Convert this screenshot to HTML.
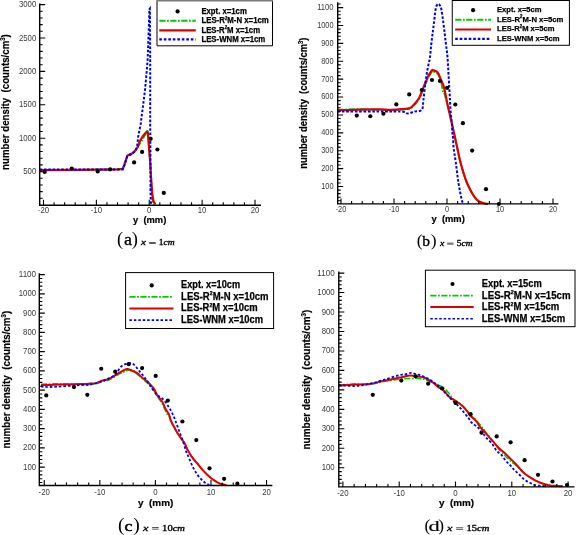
<!DOCTYPE html>
<html><head><meta charset="utf-8"><title>Figure</title>
<style>
html,body{margin:0;padding:0;background:#fff;}
body{width:576px;height:535px;overflow:hidden;}
svg{display:block;font-family:"Liberation Sans", sans-serif;will-change:transform;}
</style></head><body>
<svg width="576" height="535" viewBox="0 0 576 535">
<rect width="576" height="535" fill="#fff"/>
<g>
<path d="M39.7 170 L80 169.8 L118 169.2 L122.7 168.9 L124.5 164.3 L127.3 155.8 L128.3 155.1 L132 153.5 L135.3 150.7 L137.6 147.5 L140 143.5 L142.3 140 L145 135 L147.9 129.7 L148.4 138 L149.3 151.2 L150.2 162.4 L150.7 175 L151.1 181.8 L151.8 193.6 L152.8 201.2 L154.2 204.6" fill="none" stroke="#00cc00" stroke-width="1.8" stroke-dasharray="6.2 1.5 1.8 1.5"/>
<path d="M39.7 170.1 L80 169.9 L118 169.3 L122.7 169 L124.5 164.3 L127.3 155.8 L128.3 155.1 L132 153.5 L135.3 150.7 L137.6 147 L140 140.9 L142.8 136.2 L146 132.5 L147.2 131.7 L147.9 133.5 L148.4 140 L149.3 151.2 L150.2 162.4 L150.9 175 L151.4 181.8 L152.2 193.6 L153.5 201.2 L155.2 204.6" fill="none" stroke="#de0000" stroke-width="2.2" stroke-linejoin="round"/>
<path d="M39.7 169.5 L80 169.5 L118 169.4 L122.7 169.4 L124.5 164.8 L127.3 156.3 L128.3 155.6 L132 154 L135.3 151 L137.2 146.5 L138.1 137.1 L139.5 129.7 L140.6 125 L141.2 119.8 L143.2 104.5 L145 89.9 L146.4 75 L147.6 60 L148.2 45 L148.8 28 L149.4 9.2 L149.8 8.6 L150 20 L150.2 60 L150.2 126 L150.5 160 L150.5 190.3 L150.9 202 L151.2 205" fill="none" stroke="#0000f0" stroke-width="2.0" stroke-dasharray="2.6 1.7"/>
<circle cx="44.7" cy="171.9" r="2.1" fill="#000"/>
<circle cx="71.75" cy="168.5" r="2.1" fill="#000"/>
<circle cx="97.7" cy="171.4" r="2.1" fill="#000"/>
<circle cx="110.2" cy="169.3" r="2.1" fill="#000"/>
<circle cx="134.1" cy="162.4" r="2.1" fill="#000"/>
<circle cx="142.1" cy="151.9" r="2.1" fill="#000"/>
<circle cx="150.7" cy="138.8" r="2.1" fill="#000"/>
<circle cx="157.4" cy="149.5" r="2.1" fill="#000"/>
<circle cx="163.8" cy="192.9" r="2.1" fill="#000"/>
<path d="M39.7 3.4V205.2H261" fill="none" stroke="#000" stroke-width="1.4"/>
<path d="M39.7 198.32h3M39.7 191.64h3M39.7 184.96h3M39.7 178.28h3M39.7 171.6h5.5M39.7 164.92h3M39.7 158.24h3M39.7 151.56h3M39.7 144.88h3M39.7 138.2h5.5M39.7 131.52h3M39.7 124.84h3M39.7 118.16h3M39.7 111.48h3M39.7 104.8h5.5M39.7 98.12h3M39.7 91.44h3M39.7 84.76h3M39.7 78.08h3M39.7 71.4h5.5M39.7 64.72h3M39.7 58.04h3M39.7 51.36h3M39.7 44.68h3M39.7 38h5.5M39.7 31.32h3M39.7 24.64h3M39.7 17.96h3M39.7 11.28h3M39.7 4.6h5.5M43.5 205.2v-5.5M54.08 205.2v-3M64.65 205.2v-3M75.23 205.2v-3M85.8 205.2v-3M96.38 205.2v-5.5M106.95 205.2v-3M117.53 205.2v-3M128.1 205.2v-3M138.68 205.2v-3M149.25 205.2v-5.5M159.82 205.2v-3M170.4 205.2v-3M180.97 205.2v-3M191.55 205.2v-3M202.12 205.2v-5.5M212.7 205.2v-3M223.27 205.2v-3M233.85 205.2v-3M244.43 205.2v-3M255 205.2v-5.5" fill="none" stroke="#000" stroke-width="1.1"/>
<text x="23.29" y="174.11" font-size="8.74" fill="#3a3a3a" textLength="13.01" lengthAdjust="spacingAndGlyphs">500</text>
<text x="18.95" y="140.71" font-size="8.74" fill="#3a3a3a" textLength="17.35" lengthAdjust="spacingAndGlyphs">1000</text>
<text x="18.95" y="107.31" font-size="8.74" fill="#3a3a3a" textLength="17.35" lengthAdjust="spacingAndGlyphs">1500</text>
<text x="18.95" y="73.91" font-size="8.74" fill="#3a3a3a" textLength="17.35" lengthAdjust="spacingAndGlyphs">2000</text>
<text x="18.95" y="40.51" font-size="8.74" fill="#3a3a3a" textLength="17.35" lengthAdjust="spacingAndGlyphs">2500</text>
<text x="18.95" y="7.11" font-size="8.74" fill="#3a3a3a" textLength="17.35" lengthAdjust="spacingAndGlyphs">3000</text>
<text x="37.86" y="213.1" font-size="8.74" fill="#3a3a3a" textLength="11.27" lengthAdjust="spacingAndGlyphs">-20</text>
<text x="90.74" y="213.1" font-size="8.74" fill="#3a3a3a" textLength="11.27" lengthAdjust="spacingAndGlyphs">-10</text>
<text x="147.08" y="213.1" font-size="8.74" fill="#3a3a3a" textLength="4.34" lengthAdjust="spacingAndGlyphs">0</text>
<text x="197.79" y="213.1" font-size="8.74" fill="#3a3a3a" textLength="8.67" lengthAdjust="spacingAndGlyphs">10</text>
<text x="250.66" y="213.1" font-size="8.74" fill="#3a3a3a" textLength="8.67" lengthAdjust="spacingAndGlyphs">20</text>
<rect x="157" y="0.5" width="115.5" height="45.3" fill="#fff"/>
<path d="M157 0.5V45.8H272.5V0.5" fill="none" stroke="#000" stroke-width="1"/>
<path d="M156.5 0.8H273" stroke="#7a7a7a" stroke-width="1.6"/>
<circle cx="177.6" cy="11.4" r="2.1" fill="#000"/>
<path d="M159.3 20.7H195.8" stroke="#00cc00" stroke-width="2" stroke-dasharray="6.2 1.5 1.8 1.5"/>
<path d="M159.3 30.4H195.8" stroke="#de0000" stroke-width="2.2"/>
<path d="M159.3 39.4H195.8" stroke="#0000f0" stroke-width="2.2" stroke-dasharray="2.6 1.9"/>
<text x="201.4" y="14.1" font-size="8.19" font-weight="bold" textLength="45.4" lengthAdjust="spacingAndGlyphs" stroke="#000" stroke-width="0.25">Expt. x=1cm</text>
<text x="201.4" y="23.4" font-size="8.19" font-weight="bold" textLength="67.4" lengthAdjust="spacingAndGlyphs" stroke="#000" stroke-width="0.25">LES-R<tspan font-size="4.52" dy="-3.51">2</tspan><tspan dy="3.51">M-N x=1cm</tspan></text>
<text x="201.4" y="32.5" font-size="8.19" font-weight="bold" textLength="58.7" lengthAdjust="spacingAndGlyphs" stroke="#000" stroke-width="0.25">LES-R<tspan font-size="4.52" dy="-3.51">2</tspan><tspan dy="3.51">M x=1cm</tspan></text>
<text x="201.4" y="41.7" font-size="8.19" font-weight="bold" textLength="63.9" lengthAdjust="spacingAndGlyphs" stroke="#000" stroke-width="0.25">LES-WNM x=1cm</text>
<text x="133" y="223" font-size="9.6" font-weight="bold" textLength="33.3" lengthAdjust="spacingAndGlyphs" stroke="#000" stroke-width="0.2" xml:space="preserve">y  (mm)</text>
<text transform="translate(9.3 169.9) rotate(-90)" font-size="10.6" font-weight="bold" textLength="135.7" lengthAdjust="spacingAndGlyphs" stroke="#000" stroke-width="0.2" xml:space="preserve">number density  (counts/cm<tspan font-size="6.5" dy="-4.2">3</tspan><tspan dy="4.2">)</tspan></text>
<text x="117.11" y="245.49" font-family="'Liberation Serif', serif" font-size="18.46">(</text>
<text x="137.79" y="245.49" font-family="'Liberation Serif', serif" font-size="18.46" text-anchor="end">)</text>
<text x="123.9" y="245" font-family="'Liberation Serif', serif" font-size="16.96" textLength="8" lengthAdjust="spacingAndGlyphs" stroke="#000" stroke-width="0.35">a</text>
<text x="141.1" y="244.8" font-family="'Liberation Serif', serif" font-size="8.6" font-style="italic" textLength="4.9" lengthAdjust="spacingAndGlyphs" stroke="#000" stroke-width="0.35">x</text>
<rect x="149.1" y="242.1" width="6.6" height="0.8" fill="#333"/>
<rect x="149.1" y="243.1" width="6.6" height="0.8" fill="#333"/>
<text x="158.8" y="244.8" font-family="'Liberation Serif', serif" font-size="8.8" textLength="16" lengthAdjust="spacingAndGlyphs" stroke="#000" stroke-width="0.35">1<tspan font-style="italic">cm</tspan></text>
</g>
<g>
<path d="M337.7 109.8C341.22 109.7 351.8 109.23 358.8 109.2C365.8 109.17 374.5 109.47 379.7 109.6C384.9 109.73 386.25 110.02 390 110C393.75 109.98 398.87 109.75 402.2 109.5C405.53 109.25 407.98 109.25 410 108.5C412.02 107.75 412.77 106.67 414.3 105C415.83 103.33 418 100.42 419.2 98.5C420.4 96.58 420.72 95.33 421.5 93.5C422.28 91.67 423.07 89.42 423.9 87.5C424.73 85.58 425.85 83.5 426.5 82C427.15 80.5 426.92 80.17 427.8 78.5C428.68 76.83 430.92 73.17 431.8 72C432.68 70.83 432.13 71.17 433.1 71.5C434.07 71.83 436.3 72.42 437.6 74C438.9 75.58 440.02 78.1 440.9 81C441.78 83.9 442.35 89.4 442.9 91.4C443.45 93.4 443.5 90.98 444.2 93C444.9 95.02 446.05 99.37 447.1 103.5C448.15 107.63 449.35 112.88 450.5 117.8C451.65 122.72 452.83 127.8 454 133C455.17 138.2 456.42 144.08 457.5 149C458.58 153.92 459.17 157.48 460.5 162.5C461.83 167.52 463.98 174.77 465.5 179.1C467.02 183.43 468.12 185.55 469.6 188.5C471.08 191.45 472.83 194.63 474.4 196.8C475.97 198.97 477.23 200.38 479 201.5C480.77 202.62 483.5 203.1 485 203.5C486.5 203.9 487.5 203.83 488 203.9" fill="none" stroke="#00cc00" stroke-width="1.8" stroke-dasharray="6.2 1.5 1.8 1.5"/>
<path d="M337.7 110.4C341.22 110.27 351.8 109.77 358.8 109.6C365.8 109.43 374.5 109.37 379.7 109.4C384.9 109.43 386.25 109.83 390 109.8C393.75 109.77 398.87 109.5 402.2 109.2C405.53 108.9 407.98 108.82 410 108C412.02 107.18 412.77 106.02 414.3 104.3C415.83 102.58 418 99.67 419.2 97.7C420.4 95.73 420.72 94.43 421.5 92.5C422.28 90.57 423.07 88.1 423.9 86.1C424.73 84.1 425.85 82.02 426.5 80.5C427.15 78.98 426.92 78.67 427.8 77C428.68 75.33 430.92 71.63 431.8 70.5C432.68 69.37 432.13 69.88 433.1 70.2C434.07 70.52 436.3 70.83 437.6 72.4C438.9 73.97 439.8 76.98 440.9 79.6C442 82.22 443.17 84.28 444.2 88.1C445.23 91.92 446.05 97.6 447.1 102.5C448.15 107.4 449.35 112.42 450.5 117.5C451.65 122.58 452.83 127.75 454 133C455.17 138.25 456.42 144.08 457.5 149C458.58 153.92 459.17 157.48 460.5 162.5C461.83 167.52 463.98 174.77 465.5 179.1C467.02 183.43 468.12 185.55 469.6 188.5C471.08 191.45 472.83 194.63 474.4 196.8C475.97 198.97 477.23 200.38 479 201.5C480.77 202.62 483.5 203.1 485 203.5C486.5 203.9 487.5 203.83 488 203.9" fill="none" stroke="#de0000" stroke-width="2.2" stroke-linejoin="round"/>
<path d="M337.7 111.6C346.42 111.6 379.25 111.6 390 111.6C400.75 111.6 399.27 111.28 402.2 111.6C405.13 111.92 405.58 113.5 407.6 113.5C409.62 113.5 411.93 112.22 414.3 111.6C416.67 110.98 420.28 111.72 421.8 109.8C423.32 107.88 422.83 104.35 423.4 100.1C423.97 95.85 424.6 88.95 425.2 84.3C425.8 79.65 426.38 75.85 427 72.2C427.62 68.55 428.42 64.72 428.9 62.4C429.38 60.08 429.52 61.23 429.9 58.3C430.28 55.37 430.75 48.92 431.2 44.8C431.65 40.68 432.13 37.33 432.6 33.6C433.07 29.87 433.48 26.5 434 22.4C434.52 18.3 435.2 11.9 435.7 9C436.2 6.1 436.53 5.85 437 5C437.47 4.15 438 3.82 438.5 3.9C439 3.98 439.53 4.65 440 5.5C440.47 6.35 440.8 6.55 441.3 9C441.8 11.45 442.43 16.1 443 20.2C443.57 24.3 444.2 29.5 444.7 33.6C445.2 37.7 445.53 40.87 446 44.8C446.47 48.73 447.03 51.4 447.5 57.2C447.97 63 448.43 73.3 448.8 79.6C449.17 85.9 449.48 91.18 449.7 95C449.92 98.82 449.97 100 450.1 102.5C450.23 105 450.32 107.5 450.5 110C450.68 112.5 450.95 115.02 451.2 117.5C451.45 119.98 451.82 122.42 452 124.9C452.18 127.38 452.15 130.38 452.3 132.4C452.45 134.42 452.67 134.3 452.9 137C453.13 139.7 453.23 144.48 453.7 148.6C454.17 152.72 454.92 156.08 455.7 161.7C456.48 167.32 457.43 176.12 458.4 182.3C459.37 188.48 460.72 195.27 461.5 198.8C462.28 202.33 462.83 202.72 463.1 203.5" fill="none" stroke="#0000f0" stroke-width="2.0" stroke-dasharray="2.6 1.7"/>
<circle cx="356.75" cy="115.6" r="2.1" fill="#000"/>
<circle cx="370.3" cy="116.25" r="2.1" fill="#000"/>
<circle cx="383.4" cy="113.75" r="2.1" fill="#000"/>
<circle cx="396.3" cy="104.4" r="2.1" fill="#000"/>
<circle cx="409.2" cy="94.4" r="2.1" fill="#000"/>
<circle cx="421.8" cy="90" r="2.1" fill="#000"/>
<circle cx="432" cy="80" r="2.1" fill="#000"/>
<circle cx="439.9" cy="80.9" r="2.1" fill="#000"/>
<circle cx="447.1" cy="87.8" r="2.1" fill="#000"/>
<circle cx="455.3" cy="104.5" r="2.1" fill="#000"/>
<circle cx="462.9" cy="123.2" r="2.1" fill="#000"/>
<circle cx="472.1" cy="150.6" r="2.1" fill="#000"/>
<circle cx="486" cy="189.2" r="2.1" fill="#000"/>
<circle cx="498.8" cy="204" r="2.1" fill="#000"/>
<path d="M337.7 2.2V203.9H558.4" fill="none" stroke="#000" stroke-width="1.4"/>
<path d="M337.7 200.82h3M337.7 197.24h3M337.7 193.67h3M337.7 190.09h3M337.7 186.51h5.5M337.7 182.93h3M337.7 179.35h3M337.7 175.78h3M337.7 172.2h3M337.7 168.62h5.5M337.7 165.04h3M337.7 161.46h3M337.7 157.89h3M337.7 154.31h3M337.7 150.73h5.5M337.7 147.15h3M337.7 143.57h3M337.7 140h3M337.7 136.42h3M337.7 132.84h5.5M337.7 129.26h3M337.7 125.68h3M337.7 122.11h3M337.7 118.53h3M337.7 114.95h5.5M337.7 111.37h3M337.7 107.79h3M337.7 104.22h3M337.7 100.64h3M337.7 97.06h5.5M337.7 93.48h3M337.7 89.9h3M337.7 86.33h3M337.7 82.75h3M337.7 79.17h5.5M337.7 75.59h3M337.7 72.01h3M337.7 68.44h3M337.7 64.86h3M337.7 61.28h5.5M337.7 57.7h3M337.7 54.12h3M337.7 50.55h3M337.7 46.97h3M337.7 43.39h5.5M337.7 39.81h3M337.7 36.23h3M337.7 32.66h3M337.7 29.08h3M337.7 25.5h5.5M337.7 21.92h3M337.7 18.34h3M337.7 14.77h3M337.7 11.19h3M337.7 7.61h5.5M337.7 4.03h3M341 203.9v-5.5M351.6 203.9v-3M362.2 203.9v-3M372.8 203.9v-3M383.4 203.9v-3M394 203.9v-5.5M404.6 203.9v-3M415.2 203.9v-3M425.8 203.9v-3M436.4 203.9v-3M447 203.9v-5.5M457.6 203.9v-3M468.2 203.9v-3M478.8 203.9v-3M489.4 203.9v-3M500 203.9v-5.5M510.6 203.9v-3M521.2 203.9v-3M531.8 203.9v-3M542.4 203.9v-3M553 203.9v-5.5" fill="none" stroke="#000" stroke-width="1.1"/>
<text x="321.26" y="188.87" font-size="8.29" fill="#3a3a3a" textLength="12.34" lengthAdjust="spacingAndGlyphs">100</text>
<text x="321.26" y="170.98" font-size="8.29" fill="#3a3a3a" textLength="12.34" lengthAdjust="spacingAndGlyphs">200</text>
<text x="321.26" y="153.09" font-size="8.29" fill="#3a3a3a" textLength="12.34" lengthAdjust="spacingAndGlyphs">300</text>
<text x="321.26" y="135.2" font-size="8.29" fill="#3a3a3a" textLength="12.34" lengthAdjust="spacingAndGlyphs">400</text>
<text x="321.26" y="117.31" font-size="8.29" fill="#3a3a3a" textLength="12.34" lengthAdjust="spacingAndGlyphs">500</text>
<text x="321.26" y="99.42" font-size="8.29" fill="#3a3a3a" textLength="12.34" lengthAdjust="spacingAndGlyphs">600</text>
<text x="321.26" y="81.53" font-size="8.29" fill="#3a3a3a" textLength="12.34" lengthAdjust="spacingAndGlyphs">700</text>
<text x="321.26" y="63.64" font-size="8.29" fill="#3a3a3a" textLength="12.34" lengthAdjust="spacingAndGlyphs">800</text>
<text x="321.26" y="45.75" font-size="8.29" fill="#3a3a3a" textLength="12.34" lengthAdjust="spacingAndGlyphs">900</text>
<text x="317.14" y="27.86" font-size="8.29" fill="#3a3a3a" textLength="16.46" lengthAdjust="spacingAndGlyphs">1000</text>
<text x="317.14" y="9.97" font-size="8.29" fill="#3a3a3a" textLength="16.46" lengthAdjust="spacingAndGlyphs">1100</text>
<text x="335.65" y="211.7" font-size="8.29" fill="#3a3a3a" textLength="10.69" lengthAdjust="spacingAndGlyphs">-20</text>
<text x="388.65" y="211.7" font-size="8.29" fill="#3a3a3a" textLength="10.69" lengthAdjust="spacingAndGlyphs">-10</text>
<text x="444.94" y="211.7" font-size="8.29" fill="#3a3a3a" textLength="4.11" lengthAdjust="spacingAndGlyphs">0</text>
<text x="495.89" y="211.7" font-size="8.29" fill="#3a3a3a" textLength="8.23" lengthAdjust="spacingAndGlyphs">10</text>
<text x="548.89" y="211.7" font-size="8.29" fill="#3a3a3a" textLength="8.23" lengthAdjust="spacingAndGlyphs">20</text>
<rect x="452.25" y="0.5" width="117.15" height="44.8" fill="#fff" stroke="#000" stroke-width="1"/>
<circle cx="473.1" cy="10.2" r="2.1" fill="#000"/>
<path d="M455.2 19.8H491" stroke="#00cc00" stroke-width="2" stroke-dasharray="6.2 1.5 1.8 1.5"/>
<path d="M455.2 29.5H491" stroke="#de0000" stroke-width="2.2"/>
<path d="M455.2 38.9H491" stroke="#0000f0" stroke-width="2.2" stroke-dasharray="2.6 1.9"/>
<text x="497" y="12.4" font-size="7.98" font-weight="bold" textLength="44.5" lengthAdjust="spacingAndGlyphs" stroke="#000" stroke-width="0.25">Expt. x=5cm</text>
<text x="497" y="21.7" font-size="7.98" font-weight="bold" textLength="66.3" lengthAdjust="spacingAndGlyphs" stroke="#000" stroke-width="0.25">LES-R<tspan font-size="4.41" dy="-3.42">2</tspan><tspan dy="3.42">M-N x=5cm</tspan></text>
<text x="497" y="31.4" font-size="7.98" font-weight="bold" textLength="57.5" lengthAdjust="spacingAndGlyphs" stroke="#000" stroke-width="0.25">LES-R<tspan font-size="4.41" dy="-3.42">2</tspan><tspan dy="3.42">M x=5cm</tspan></text>
<text x="497" y="40.6" font-size="7.98" font-weight="bold" textLength="62.5" lengthAdjust="spacingAndGlyphs" stroke="#000" stroke-width="0.25">LES-WNM x=5cm</text>
<text x="431.5" y="222" font-size="9.6" font-weight="bold" textLength="33.3" lengthAdjust="spacingAndGlyphs" stroke="#000" stroke-width="0.2" xml:space="preserve">y  (mm)</text>
<text transform="translate(306.8 168.8) rotate(-90)" font-size="10.6" font-weight="bold" textLength="131.1" lengthAdjust="spacingAndGlyphs" stroke="#000" stroke-width="0.2" xml:space="preserve">number density  (counts/cm<tspan font-size="6.5" dy="-4.2">3</tspan><tspan dy="4.2">)</tspan></text>
<text x="416.76" y="246.33" font-family="'Liberation Serif', serif" font-size="17.49">(</text>
<text x="436.54" y="246.33" font-family="'Liberation Serif', serif" font-size="17.49" text-anchor="end">)</text>
<text x="422.2" y="245.6" font-family="'Liberation Serif', serif" font-size="13.76" textLength="7.8" lengthAdjust="spacingAndGlyphs" stroke="#000" stroke-width="0.3">b</text>
<text x="440" y="245.6" font-family="'Liberation Serif', serif" font-size="8.6" font-style="italic" textLength="4.3" lengthAdjust="spacingAndGlyphs" stroke="#000" stroke-width="0.35">x</text>
<rect x="447.2" y="242.7" width="6.3" height="0.8" fill="#333"/>
<rect x="447.2" y="243.7" width="6.3" height="0.8" fill="#333"/>
<text x="456.8" y="245.6" font-family="'Liberation Serif', serif" font-size="8.8" textLength="15.8" lengthAdjust="spacingAndGlyphs" stroke="#000" stroke-width="0.35">5<tspan font-style="italic">cm</tspan></text>
</g>
<g>
<path d="M41 384.2C44.3 384.13 54.02 383.77 60.8 383.8C67.58 383.83 76.83 384.3 81.7 384.4C86.57 384.5 87.58 384.5 90 384.4C92.42 384.3 94.17 384.28 96.25 383.8C98.33 383.32 100.42 382.13 102.5 381.5C104.58 380.87 106.67 380.83 108.75 380C110.83 379.17 112.92 377.67 115 376.5C117.08 375.33 119.68 373.8 121.25 373C122.82 372.2 122.66 372.27 124.4 371.7C126.14 371.13 129.62 369.23 131.7 369.6C133.78 369.97 135.17 372.43 136.9 373.9C138.63 375.37 140.37 376.88 142.1 378.4C143.83 379.92 145.98 381.73 147.3 383C148.62 384.27 148.78 384.58 150 386C151.22 387.42 153.47 389.85 154.6 391.5C155.73 393.15 156.05 394.65 156.8 395.9C157.55 397.15 158.17 397.65 159.1 399C160.03 400.35 161.1 401.53 162.4 404C163.7 406.47 165.8 411.8 166.9 413.8C168 415.8 168.37 414.8 169 416C169.63 417.2 169.95 419.25 170.7 421C171.45 422.75 172.5 424.67 173.5 426.5C174.5 428.33 175.52 430.12 176.7 432C177.88 433.88 179.3 435.98 180.6 437.8C181.9 439.62 183.38 441.02 184.5 442.9C185.62 444.78 186.08 446.77 187.3 449.1C188.52 451.43 190.12 454.48 191.8 456.9C193.48 459.32 195.53 461.35 197.4 463.6C199.27 465.85 201.13 468.33 203 470.4C204.87 472.47 206.73 474.33 208.6 476C210.47 477.67 212.33 479.13 214.2 480.4C216.07 481.67 217.73 482.8 219.8 483.6C221.87 484.4 225.47 484.93 226.6 485.2" fill="none" stroke="#00cc00" stroke-width="1.5" stroke-dasharray="6.2 1.5 1.8 1.5"/>
<path d="M41 385.2C44.3 385.07 54.02 384.6 60.8 384.4C67.58 384.2 76.83 384.13 81.7 384C86.57 383.87 87.58 383.75 90 383.6C92.42 383.45 94.17 383.62 96.25 383.1C98.33 382.58 100.42 381.18 102.5 380.5C104.58 379.82 106.67 379.87 108.75 379C110.83 378.13 112.92 376.52 115 375.3C117.08 374.08 119.25 372.73 121.25 371.7C123.25 370.67 125.26 369.28 127 369.1C128.74 368.92 130.05 369.97 131.7 370.6C133.35 371.23 135.17 371.77 136.9 372.9C138.63 374.03 140.37 375.95 142.1 377.4C143.83 378.85 145.98 380.47 147.3 381.6C148.62 382.73 148.78 382.85 150 384.2C151.22 385.55 153.55 388.13 154.6 389.7C155.65 391.27 155.55 392.28 156.3 393.6C157.05 394.92 158.08 396.2 159.1 397.6C160.12 399 161.32 400.1 162.4 402C163.48 403.9 164.5 406.92 165.6 409C166.7 411.08 168.15 412.65 169 414.5C169.85 416.35 169.95 418.22 170.7 420.1C171.45 421.98 172.5 423.87 173.5 425.8C174.5 427.73 175.52 429.7 176.7 431.7C177.88 433.7 179.3 435.93 180.6 437.8C181.9 439.67 183.38 441.02 184.5 442.9C185.62 444.78 186.08 446.77 187.3 449.1C188.52 451.43 190.12 454.48 191.8 456.9C193.48 459.32 195.53 461.35 197.4 463.6C199.27 465.85 201.13 468.33 203 470.4C204.87 472.47 206.73 474.33 208.6 476C210.47 477.67 212.33 479.13 214.2 480.4C216.07 481.67 217.73 482.8 219.8 483.6C221.87 484.4 225.47 484.93 226.6 485.2" fill="none" stroke="#de0000" stroke-width="2.0" stroke-linejoin="round"/>
<path d="M41 386.4C42.57 386.5 43.62 387.23 50.4 387C57.18 386.77 75.1 385.38 81.7 385C88.3 384.62 86.53 385.37 90 384.7C93.47 384.03 99.38 382.05 102.5 381C105.62 379.95 106.67 379.43 108.75 378.4C110.83 377.37 112.92 376.78 115 374.8C117.08 372.82 119 368.42 121.25 366.5C123.5 364.58 126.42 363.65 128.5 363.3C130.58 362.95 132 363.18 133.75 364.4C135.5 365.62 137.26 368.52 139 370.6C140.74 372.68 142.37 374.47 144.2 376.9C146.03 379.33 147.9 382.22 150 385.2C152.1 388.18 154.92 392.73 156.8 394.8C158.68 396.87 159.8 396.3 161.3 397.6C162.8 398.9 164.57 401.03 165.8 402.6C167.03 404.17 167.8 405.57 168.7 407C169.6 408.43 170.45 409.85 171.2 411.2C171.95 412.55 172.58 413.75 173.2 415.1C173.82 416.45 174.38 417.95 174.9 419.3C175.42 420.65 175.8 421.85 176.3 423.2C176.8 424.55 177.4 426.03 177.9 427.4C178.4 428.77 178.57 429.47 179.3 431.4C180.03 433.33 181.23 435.87 182.3 439C183.37 442.13 184.58 447.03 185.7 450.2C186.82 453.37 187.8 455.2 189 458C190.2 460.8 191.5 464.2 192.9 467C194.3 469.8 195.72 472.47 197.4 474.8C199.08 477.13 201.22 479.4 203 481C204.78 482.6 206.93 483.68 208.1 484.4C209.27 485.12 209.68 485.15 210 485.3" fill="none" stroke="#0000f0" stroke-width="1.8" stroke-dasharray="2.5 2.0"/>
<circle cx="46.25" cy="395.4" r="2.1" fill="#000"/>
<circle cx="74" cy="387.1" r="2.1" fill="#000"/>
<circle cx="87.3" cy="394.8" r="2.1" fill="#000"/>
<circle cx="101.25" cy="368.75" r="2.1" fill="#000"/>
<circle cx="115.2" cy="371.7" r="2.1" fill="#000"/>
<circle cx="128.75" cy="364.2" r="2.1" fill="#000"/>
<circle cx="142.1" cy="368.1" r="2.1" fill="#000"/>
<circle cx="155.7" cy="375.9" r="2.1" fill="#000"/>
<circle cx="167.8" cy="400.6" r="2.1" fill="#000"/>
<circle cx="182.4" cy="421.5" r="2.1" fill="#000"/>
<circle cx="196.3" cy="440.1" r="2.1" fill="#000"/>
<circle cx="209.5" cy="468.3" r="2.1" fill="#000"/>
<circle cx="224.1" cy="478.8" r="2.1" fill="#000"/>
<circle cx="237.4" cy="483.7" r="2.1" fill="#000"/>
<path d="M39.3 273.2V485.5H272.4" fill="none" stroke="#000" stroke-width="1.4"/>
<path d="M39.3 482.55h3M39.3 478.7h3M39.3 474.85h3M39.3 471h3M39.3 467.14h5.5M39.3 463.29h3M39.3 459.44h3M39.3 455.59h3M39.3 451.74h3M39.3 447.89h5.5M39.3 444.04h3M39.3 440.19h3M39.3 436.34h3M39.3 432.49h3M39.3 428.63h5.5M39.3 424.78h3M39.3 420.93h3M39.3 417.08h3M39.3 413.23h3M39.3 409.38h5.5M39.3 405.53h3M39.3 401.68h3M39.3 397.83h3M39.3 393.98h3M39.3 390.12h5.5M39.3 386.27h3M39.3 382.42h3M39.3 378.57h3M39.3 374.72h3M39.3 370.87h5.5M39.3 367.02h3M39.3 363.17h3M39.3 359.32h3M39.3 355.47h3M39.3 351.62h5.5M39.3 347.76h3M39.3 343.91h3M39.3 340.06h3M39.3 336.21h3M39.3 332.36h5.5M39.3 328.51h3M39.3 324.66h3M39.3 320.81h3M39.3 316.96h3M39.3 313.11h5.5M39.3 309.25h3M39.3 305.4h3M39.3 301.55h3M39.3 297.7h3M39.3 293.85h5.5M39.3 290h3M39.3 286.15h3M39.3 282.3h3M39.3 278.45h3M39.3 274.59h5.5M44.25 485.5v-5.5M55.37 485.5v-3M66.48 485.5v-3M77.59 485.5v-3M88.71 485.5v-3M99.83 485.5v-5.5M110.94 485.5v-3M122.06 485.5v-3M133.17 485.5v-3M144.28 485.5v-3M155.4 485.5v-5.5M166.52 485.5v-3M177.63 485.5v-3M188.75 485.5v-3M199.86 485.5v-3M210.98 485.5v-5.5M222.09 485.5v-3M233.21 485.5v-3M244.32 485.5v-3M255.44 485.5v-3M266.55 485.5v-5.5" fill="none" stroke="#000" stroke-width="1.1"/>
<text x="23.09" y="469.65" font-size="8.74" fill="#3a3a3a" textLength="13.01" lengthAdjust="spacingAndGlyphs">100</text>
<text x="23.09" y="450.4" font-size="8.74" fill="#3a3a3a" textLength="13.01" lengthAdjust="spacingAndGlyphs">200</text>
<text x="23.09" y="431.14" font-size="8.74" fill="#3a3a3a" textLength="13.01" lengthAdjust="spacingAndGlyphs">300</text>
<text x="23.09" y="411.89" font-size="8.74" fill="#3a3a3a" textLength="13.01" lengthAdjust="spacingAndGlyphs">400</text>
<text x="23.09" y="392.63" font-size="8.74" fill="#3a3a3a" textLength="13.01" lengthAdjust="spacingAndGlyphs">500</text>
<text x="23.09" y="373.38" font-size="8.74" fill="#3a3a3a" textLength="13.01" lengthAdjust="spacingAndGlyphs">600</text>
<text x="23.09" y="354.12" font-size="8.74" fill="#3a3a3a" textLength="13.01" lengthAdjust="spacingAndGlyphs">700</text>
<text x="23.09" y="334.87" font-size="8.74" fill="#3a3a3a" textLength="13.01" lengthAdjust="spacingAndGlyphs">800</text>
<text x="23.09" y="315.61" font-size="8.74" fill="#3a3a3a" textLength="13.01" lengthAdjust="spacingAndGlyphs">900</text>
<text x="18.75" y="296.36" font-size="8.74" fill="#3a3a3a" textLength="17.35" lengthAdjust="spacingAndGlyphs">1000</text>
<text x="18.75" y="277.1" font-size="8.74" fill="#3a3a3a" textLength="17.35" lengthAdjust="spacingAndGlyphs">1100</text>
<text x="38.61" y="495.1" font-size="8.74" fill="#3a3a3a" textLength="11.27" lengthAdjust="spacingAndGlyphs">-20</text>
<text x="94.19" y="495.1" font-size="8.74" fill="#3a3a3a" textLength="11.27" lengthAdjust="spacingAndGlyphs">-10</text>
<text x="153.23" y="495.1" font-size="8.74" fill="#3a3a3a" textLength="4.34" lengthAdjust="spacingAndGlyphs">0</text>
<text x="206.64" y="495.1" font-size="8.74" fill="#3a3a3a" textLength="8.67" lengthAdjust="spacingAndGlyphs">10</text>
<text x="262.21" y="495.1" font-size="8.74" fill="#3a3a3a" textLength="8.67" lengthAdjust="spacingAndGlyphs">20</text>
<rect x="125.6" y="272.6" width="148" height="55.9" fill="#fff" stroke="#000" stroke-width="1"/>
<circle cx="151.7" cy="285.4" r="2.1" fill="#000"/>
<path d="M129.4 296.9H173.5" stroke="#00cc00" stroke-width="1.8" stroke-dasharray="6.2 1.5 1.8 1.5"/>
<path d="M129.4 308.4H173.5" stroke="#de0000" stroke-width="2.0"/>
<path d="M129.4 320.1H173.5" stroke="#0000f0" stroke-width="1.8" stroke-dasharray="2.5 1.95"/>
<text x="181.1" y="288.4" font-size="10.4" font-weight="bold" textLength="59" lengthAdjust="spacingAndGlyphs" stroke="#000" stroke-width="0.25">Expt. x=10cm</text>
<text x="181.1" y="299.9" font-size="10.4" font-weight="bold" textLength="87.5" lengthAdjust="spacingAndGlyphs" stroke="#000" stroke-width="0.25">LES-R<tspan font-size="5.74" dy="-4.46">2</tspan><tspan dy="4.46">M-N x=10cm</tspan></text>
<text x="181.1" y="311.4" font-size="10.4" font-weight="bold" textLength="76.5" lengthAdjust="spacingAndGlyphs" stroke="#000" stroke-width="0.25">LES-R<tspan font-size="5.74" dy="-4.46">2</tspan><tspan dy="4.46">M x=10cm</tspan></text>
<text x="181.1" y="323" font-size="10.4" font-weight="bold" textLength="82" lengthAdjust="spacingAndGlyphs" stroke="#000" stroke-width="0.25">LES-WNM x=10cm</text>
<text x="138" y="505.5" font-size="9.6" font-weight="bold" textLength="35.3" lengthAdjust="spacingAndGlyphs" stroke="#000" stroke-width="0.2" xml:space="preserve">y  (mm)</text>
<text transform="translate(10.4 448.4) rotate(-90)" font-size="10.6" font-weight="bold" textLength="137.6" lengthAdjust="spacingAndGlyphs" stroke="#000" stroke-width="0.2" xml:space="preserve">number density  (counts/cm<tspan font-size="6.5" dy="-4.2">3</tspan><tspan dy="4.2">)</tspan></text>
<text x="118.06" y="530.57" font-family="'Liberation Serif', serif" font-size="19.61">(</text>
<text x="139.74" y="530.57" font-family="'Liberation Serif', serif" font-size="19.61" text-anchor="end">)</text>
<text x="124.6" y="530.5" font-family="'Liberation Serif', serif" font-size="14.35" textLength="7.9" lengthAdjust="spacingAndGlyphs" stroke="#000" stroke-width="0.5">c</text>
<text x="142.9" y="530.5" font-family="'Liberation Serif', serif" font-size="8.6" font-style="italic" textLength="5.4" lengthAdjust="spacingAndGlyphs" stroke="#000" stroke-width="0.35">x</text>
<rect x="152.1" y="527.2" width="6.65" height="0.8" fill="#333"/>
<rect x="152.1" y="528.7" width="6.65" height="0.8" fill="#333"/>
<text x="162.1" y="530.5" font-family="'Liberation Serif', serif" font-size="8.8" textLength="22.9" lengthAdjust="spacingAndGlyphs" stroke="#000" stroke-width="0.35">10<tspan font-style="italic">cm</tspan></text>
</g>
<g>
<path d="M338.8 385C341.45 384.83 349.62 384.07 354.7 384C359.77 383.93 364.4 385.02 369.25 384.6C374.1 384.18 378.68 382.38 383.8 381.5C388.93 380.62 395.85 379.8 400 379.3C404.15 378.8 405.52 378.63 408.7 378.5C411.88 378.37 416.35 378.28 419.1 378.5C421.85 378.72 423.05 379.13 425.2 379.8C427.35 380.47 429.7 381.57 432 382.5C434.3 383.43 437.1 384.55 439 385.4C440.9 386.25 441.8 386.37 443.4 387.6C445 388.83 447 390.98 448.6 392.8C450.2 394.62 451.31 396.88 453 398.5C454.69 400.12 457.08 401.17 458.75 402.5C460.42 403.83 461.54 405.08 463 406.5C464.46 407.92 466.33 409.67 467.5 411C468.67 412.33 468.65 413.03 470 414.5C471.35 415.97 473.45 417.55 475.6 419.8C477.75 422.05 481.32 426.05 482.9 428C484.48 429.95 483.92 429.92 485.1 431.5C486.28 433.08 488.43 435.58 490 437.5C491.57 439.42 493 441 494.5 443C496 445 497.5 447.68 499 449.5C500.5 451.32 502.17 452.52 503.5 453.9C504.83 455.28 505.63 456.43 507 457.8C508.37 459.17 510.37 460.98 511.7 462.1C513.03 463.22 513.73 463.43 515 464.5C516.27 465.57 517.85 467.12 519.3 468.5C520.75 469.88 522.1 471.43 523.7 472.8C525.3 474.17 527.17 475.55 528.9 476.7C530.63 477.85 532.37 478.77 534.1 479.7C535.83 480.63 537.57 481.57 539.3 482.3C541.03 483.03 542.77 483.58 544.5 484.1C546.23 484.62 547.82 485.12 549.7 485.4C551.58 485.68 553.63 485.66 555.8 485.8C557.97 485.94 561.55 486.18 562.7 486.25" fill="none" stroke="#00cc00" stroke-width="1.5" stroke-dasharray="6.2 1.5 1.8 1.5"/>
<path d="M338.8 385.4C341.45 385.27 349.62 384.83 354.7 384.6C359.77 384.37 364.4 384.63 369.25 384C374.1 383.37 378.68 381.87 383.8 380.8C388.93 379.73 396.58 378.28 400 377.6C403.42 376.92 402.72 377.07 404.3 376.7C405.88 376.33 407.75 375.53 409.5 375.4C411.25 375.27 413.05 375.68 414.8 375.9C416.55 376.12 418.27 376.35 420 376.7C421.73 377.05 423.62 377.35 425.2 378C426.78 378.65 428.05 379.73 429.5 380.6C430.95 381.47 432.45 382.12 433.9 383.2C435.35 384.28 436.62 385.93 438.2 387.1C439.78 388.27 441.67 388.68 443.4 390.2C445.13 391.72 447 394.7 448.6 396.25C450.2 397.8 451.31 398.38 453 399.5C454.69 400.62 457.08 401.83 458.75 403C460.42 404.17 461.54 405.05 463 406.5C464.46 407.95 466.33 410.18 467.5 411.7C468.67 413.22 468.65 414.15 470 415.6C471.35 417.05 473.92 418.53 475.6 420.4C477.28 422.27 478.52 424.8 480.1 426.8C481.68 428.8 483.45 430.5 485.1 432.4C486.75 434.3 488.43 436.42 490 438.2C491.57 439.98 493 441.42 494.5 443.1C496 444.78 497.25 446.62 499 448.3C500.75 449.98 503.27 451.63 505 453.2C506.73 454.77 507.73 456.03 509.4 457.7C511.07 459.37 513.35 461.48 515 463.2C516.65 464.92 517.85 466.4 519.3 468C520.75 469.6 522.1 471.35 523.7 472.8C525.3 474.25 527.17 475.55 528.9 476.7C530.63 477.85 532.37 478.77 534.1 479.7C535.83 480.63 537.57 481.57 539.3 482.3C541.03 483.03 542.77 483.58 544.5 484.1C546.23 484.62 547.82 485.12 549.7 485.4C551.58 485.68 553.63 485.66 555.8 485.8C557.97 485.94 561.55 486.18 562.7 486.25" fill="none" stroke="#de0000" stroke-width="2.0" stroke-linejoin="round"/>
<path d="M338.8 385C341.45 385.17 349.62 386.17 354.7 386C359.77 385.83 364.4 385.03 369.25 384C374.1 382.97 378.68 381.3 383.8 379.8C388.93 378.3 396.43 375.88 400 375C403.57 374.12 403.32 374.87 405.2 374.5C407.08 374.13 409.57 372.87 411.3 372.8C413.03 372.73 414.02 373.67 415.6 374.1C417.18 374.53 419.2 374.88 420.8 375.4C422.4 375.92 423.9 376.62 425.2 377.2C426.5 377.78 427.45 378.25 428.6 378.9C429.75 379.55 430.78 380.17 432.1 381.1C433.42 382.03 435.05 383.42 436.5 384.5C437.95 385.58 439.37 386.22 440.8 387.6C442.23 388.98 443.8 391.36 445.1 392.8C446.4 394.24 447.28 394.88 448.6 396.25C449.92 397.62 451.31 399.33 453 401C454.69 402.67 456.92 404.33 458.75 406.25C460.58 408.17 462.38 410.54 464 412.5C465.62 414.46 467.32 416.4 468.5 418C469.68 419.6 470.1 420.95 471.1 422.1C472.1 423.25 473.37 424.02 474.5 424.9C475.63 425.78 476.92 426.42 477.9 427.4C478.88 428.38 479.47 429.68 480.4 430.8C481.33 431.92 482.52 432.93 483.5 434.1C484.48 435.27 484.9 436.23 486.3 437.8C487.7 439.37 490.17 441.32 491.9 443.5C493.63 445.68 495.15 449.03 496.7 450.9C498.25 452.77 499.7 453.07 501.2 454.7C502.7 456.33 504.33 459.08 505.7 460.7C507.07 462.32 508.28 463.22 509.4 464.4C510.52 465.58 511.47 466.77 512.4 467.8C513.33 468.83 513.85 469.48 515 470.6C516.15 471.72 517.72 472.98 519.3 474.5C520.88 476.02 522.75 478.32 524.5 479.7C526.25 481.08 528.05 481.92 529.8 482.8C531.55 483.68 533.27 484.5 535 485C536.73 485.5 538.33 485.59 540.2 485.8C542.08 486.01 545.24 486.18 546.25 486.25" fill="none" stroke="#0000f0" stroke-width="1.8" stroke-dasharray="2.5 2.0"/>
<circle cx="372.8" cy="394.8" r="2.1" fill="#000"/>
<circle cx="401.3" cy="380.6" r="2.1" fill="#000"/>
<circle cx="415.6" cy="376.3" r="2.1" fill="#000"/>
<circle cx="428.2" cy="383.7" r="2.1" fill="#000"/>
<circle cx="442.1" cy="388.4" r="2.1" fill="#000"/>
<circle cx="455.6" cy="402.9" r="2.1" fill="#000"/>
<circle cx="470.6" cy="414.2" r="2.1" fill="#000"/>
<circle cx="481.5" cy="432.7" r="2.1" fill="#000"/>
<circle cx="496.7" cy="436.4" r="2.1" fill="#000"/>
<circle cx="510.6" cy="442.3" r="2.1" fill="#000"/>
<circle cx="524.6" cy="460.2" r="2.1" fill="#000"/>
<circle cx="538" cy="474.8" r="2.1" fill="#000"/>
<circle cx="552.5" cy="481.5" r="2.1" fill="#000"/>
<circle cx="567" cy="485" r="2.1" fill="#000"/>
<path d="M338.8 271.6V486.9H574.5" fill="none" stroke="#000" stroke-width="1.4"/>
<path d="M338.8 483.31h3M338.8 479.41h3M338.8 475.52h3M338.8 471.63h3M338.8 467.74h5.5M338.8 463.84h3M338.8 459.95h3M338.8 456.06h3M338.8 452.16h3M338.8 448.27h5.5M338.8 444.38h3M338.8 440.49h3M338.8 436.59h3M338.8 432.7h3M338.8 428.81h5.5M338.8 424.92h3M338.8 421.02h3M338.8 417.13h3M338.8 413.24h3M338.8 409.34h5.5M338.8 405.45h3M338.8 401.56h3M338.8 397.67h3M338.8 393.77h3M338.8 389.88h5.5M338.8 385.99h3M338.8 382.09h3M338.8 378.2h3M338.8 374.31h3M338.8 370.42h5.5M338.8 366.52h3M338.8 362.63h3M338.8 358.74h3M338.8 354.84h3M338.8 350.95h5.5M338.8 347.06h3M338.8 343.17h3M338.8 339.27h3M338.8 335.38h3M338.8 331.49h5.5M338.8 327.6h3M338.8 323.7h3M338.8 319.81h3M338.8 315.92h3M338.8 312.02h5.5M338.8 308.13h3M338.8 304.24h3M338.8 300.35h3M338.8 296.45h3M338.8 292.56h5.5M338.8 288.67h3M338.8 284.77h3M338.8 280.88h3M338.8 276.99h3M338.8 273.1h5.5M342.9 486.9v-5.5M354.16 486.9v-3M365.42 486.9v-3M376.68 486.9v-3M387.94 486.9v-3M399.2 486.9v-5.5M410.46 486.9v-3M421.72 486.9v-3M432.98 486.9v-3M444.24 486.9v-3M455.5 486.9v-5.5M466.76 486.9v-3M478.02 486.9v-3M489.28 486.9v-3M500.54 486.9v-3M511.8 486.9v-5.5M523.06 486.9v-3M534.32 486.9v-3M545.58 486.9v-3M556.84 486.9v-3M568.1 486.9v-5.5" fill="none" stroke="#000" stroke-width="1.1"/>
<text x="321.69" y="470.24" font-size="8.74" fill="#3a3a3a" textLength="13.01" lengthAdjust="spacingAndGlyphs">100</text>
<text x="321.69" y="450.78" font-size="8.74" fill="#3a3a3a" textLength="13.01" lengthAdjust="spacingAndGlyphs">200</text>
<text x="321.69" y="431.32" font-size="8.74" fill="#3a3a3a" textLength="13.01" lengthAdjust="spacingAndGlyphs">300</text>
<text x="321.69" y="411.85" font-size="8.74" fill="#3a3a3a" textLength="13.01" lengthAdjust="spacingAndGlyphs">400</text>
<text x="321.69" y="392.39" font-size="8.74" fill="#3a3a3a" textLength="13.01" lengthAdjust="spacingAndGlyphs">500</text>
<text x="321.69" y="372.92" font-size="8.74" fill="#3a3a3a" textLength="13.01" lengthAdjust="spacingAndGlyphs">600</text>
<text x="321.69" y="353.46" font-size="8.74" fill="#3a3a3a" textLength="13.01" lengthAdjust="spacingAndGlyphs">700</text>
<text x="321.69" y="334" font-size="8.74" fill="#3a3a3a" textLength="13.01" lengthAdjust="spacingAndGlyphs">800</text>
<text x="321.69" y="314.53" font-size="8.74" fill="#3a3a3a" textLength="13.01" lengthAdjust="spacingAndGlyphs">900</text>
<text x="317.35" y="295.07" font-size="8.74" fill="#3a3a3a" textLength="17.35" lengthAdjust="spacingAndGlyphs">1000</text>
<text x="317.35" y="275.6" font-size="8.74" fill="#3a3a3a" textLength="17.35" lengthAdjust="spacingAndGlyphs">1100</text>
<text x="337.26" y="496.1" font-size="8.74" fill="#3a3a3a" textLength="11.27" lengthAdjust="spacingAndGlyphs">-20</text>
<text x="393.56" y="496.1" font-size="8.74" fill="#3a3a3a" textLength="11.27" lengthAdjust="spacingAndGlyphs">-10</text>
<text x="453.33" y="496.1" font-size="8.74" fill="#3a3a3a" textLength="4.34" lengthAdjust="spacingAndGlyphs">0</text>
<text x="507.46" y="496.1" font-size="8.74" fill="#3a3a3a" textLength="8.67" lengthAdjust="spacingAndGlyphs">10</text>
<text x="563.76" y="496.1" font-size="8.74" fill="#3a3a3a" textLength="8.67" lengthAdjust="spacingAndGlyphs">20</text>
<rect x="425.4" y="270.2" width="149.6" height="56.5" fill="#fff" stroke="#000" stroke-width="1"/>
<circle cx="452.5" cy="284" r="2.1" fill="#000"/>
<path d="M430.3 295.6H473.7" stroke="#00cc00" stroke-width="1.6" stroke-dasharray="6.2 1.5 1.8 1.5"/>
<path d="M430.3 307H473.7" stroke="#de0000" stroke-width="2.0"/>
<path d="M430.3 318.7H473.7" stroke="#0000f0" stroke-width="1.6" stroke-dasharray="2.5 1.95"/>
<text x="481.8" y="287" font-size="10.5" font-weight="bold" textLength="60" lengthAdjust="spacingAndGlyphs" stroke="#000" stroke-width="0.25">Expt. x=15cm</text>
<text x="481.8" y="298.6" font-size="10.5" font-weight="bold" textLength="88.8" lengthAdjust="spacingAndGlyphs" stroke="#000" stroke-width="0.25">LES-R<tspan font-size="5.8" dy="-4.5">2</tspan><tspan dy="4.5">M-N x=15cm</tspan></text>
<text x="481.8" y="310" font-size="10.5" font-weight="bold" textLength="77.5" lengthAdjust="spacingAndGlyphs" stroke="#000" stroke-width="0.25">LES-R<tspan font-size="5.8" dy="-4.5">2</tspan><tspan dy="4.5">M x=15cm</tspan></text>
<text x="481.8" y="321.7" font-size="10.5" font-weight="bold" textLength="83.5" lengthAdjust="spacingAndGlyphs" stroke="#000" stroke-width="0.25">LES-WNM x=15cm</text>
<text x="439" y="506" font-size="9.6" font-weight="bold" textLength="35" lengthAdjust="spacingAndGlyphs" stroke="#000" stroke-width="0.2" xml:space="preserve">y  (mm)</text>
<text transform="translate(310 449.5) rotate(-90)" font-size="10.6" font-weight="bold" textLength="139.8" lengthAdjust="spacingAndGlyphs" stroke="#000" stroke-width="0.2" xml:space="preserve">number density  (counts/cm<tspan font-size="6.5" dy="-4.2">3</tspan><tspan dy="4.2">)</tspan></text>
<text x="424.47" y="531.01" font-family="'Liberation Serif', serif" font-size="17.31">(</text>
<text x="443.93" y="531.01" font-family="'Liberation Serif', serif" font-size="17.31" text-anchor="end">)</text>
<text x="428.6" y="530.5" font-family="'Liberation Serif', serif" font-size="14.49" textLength="11.2" lengthAdjust="spacingAndGlyphs" stroke="#000" stroke-width="0.15">d</text>
<text x="446.9" y="530.7" font-family="'Liberation Serif', serif" font-size="8.6" font-style="italic" textLength="5.4" lengthAdjust="spacingAndGlyphs" stroke="#000" stroke-width="0.35">x</text>
<rect x="456.1" y="527.4" width="7.1" height="0.8" fill="#333"/>
<rect x="456.1" y="528.9" width="7.1" height="0.8" fill="#333"/>
<text x="466.5" y="530.7" font-family="'Liberation Serif', serif" font-size="8.8" textLength="22.9" lengthAdjust="spacingAndGlyphs" stroke="#000" stroke-width="0.35">15<tspan font-style="italic">cm</tspan></text>
</g>
</svg>
</body></html>
